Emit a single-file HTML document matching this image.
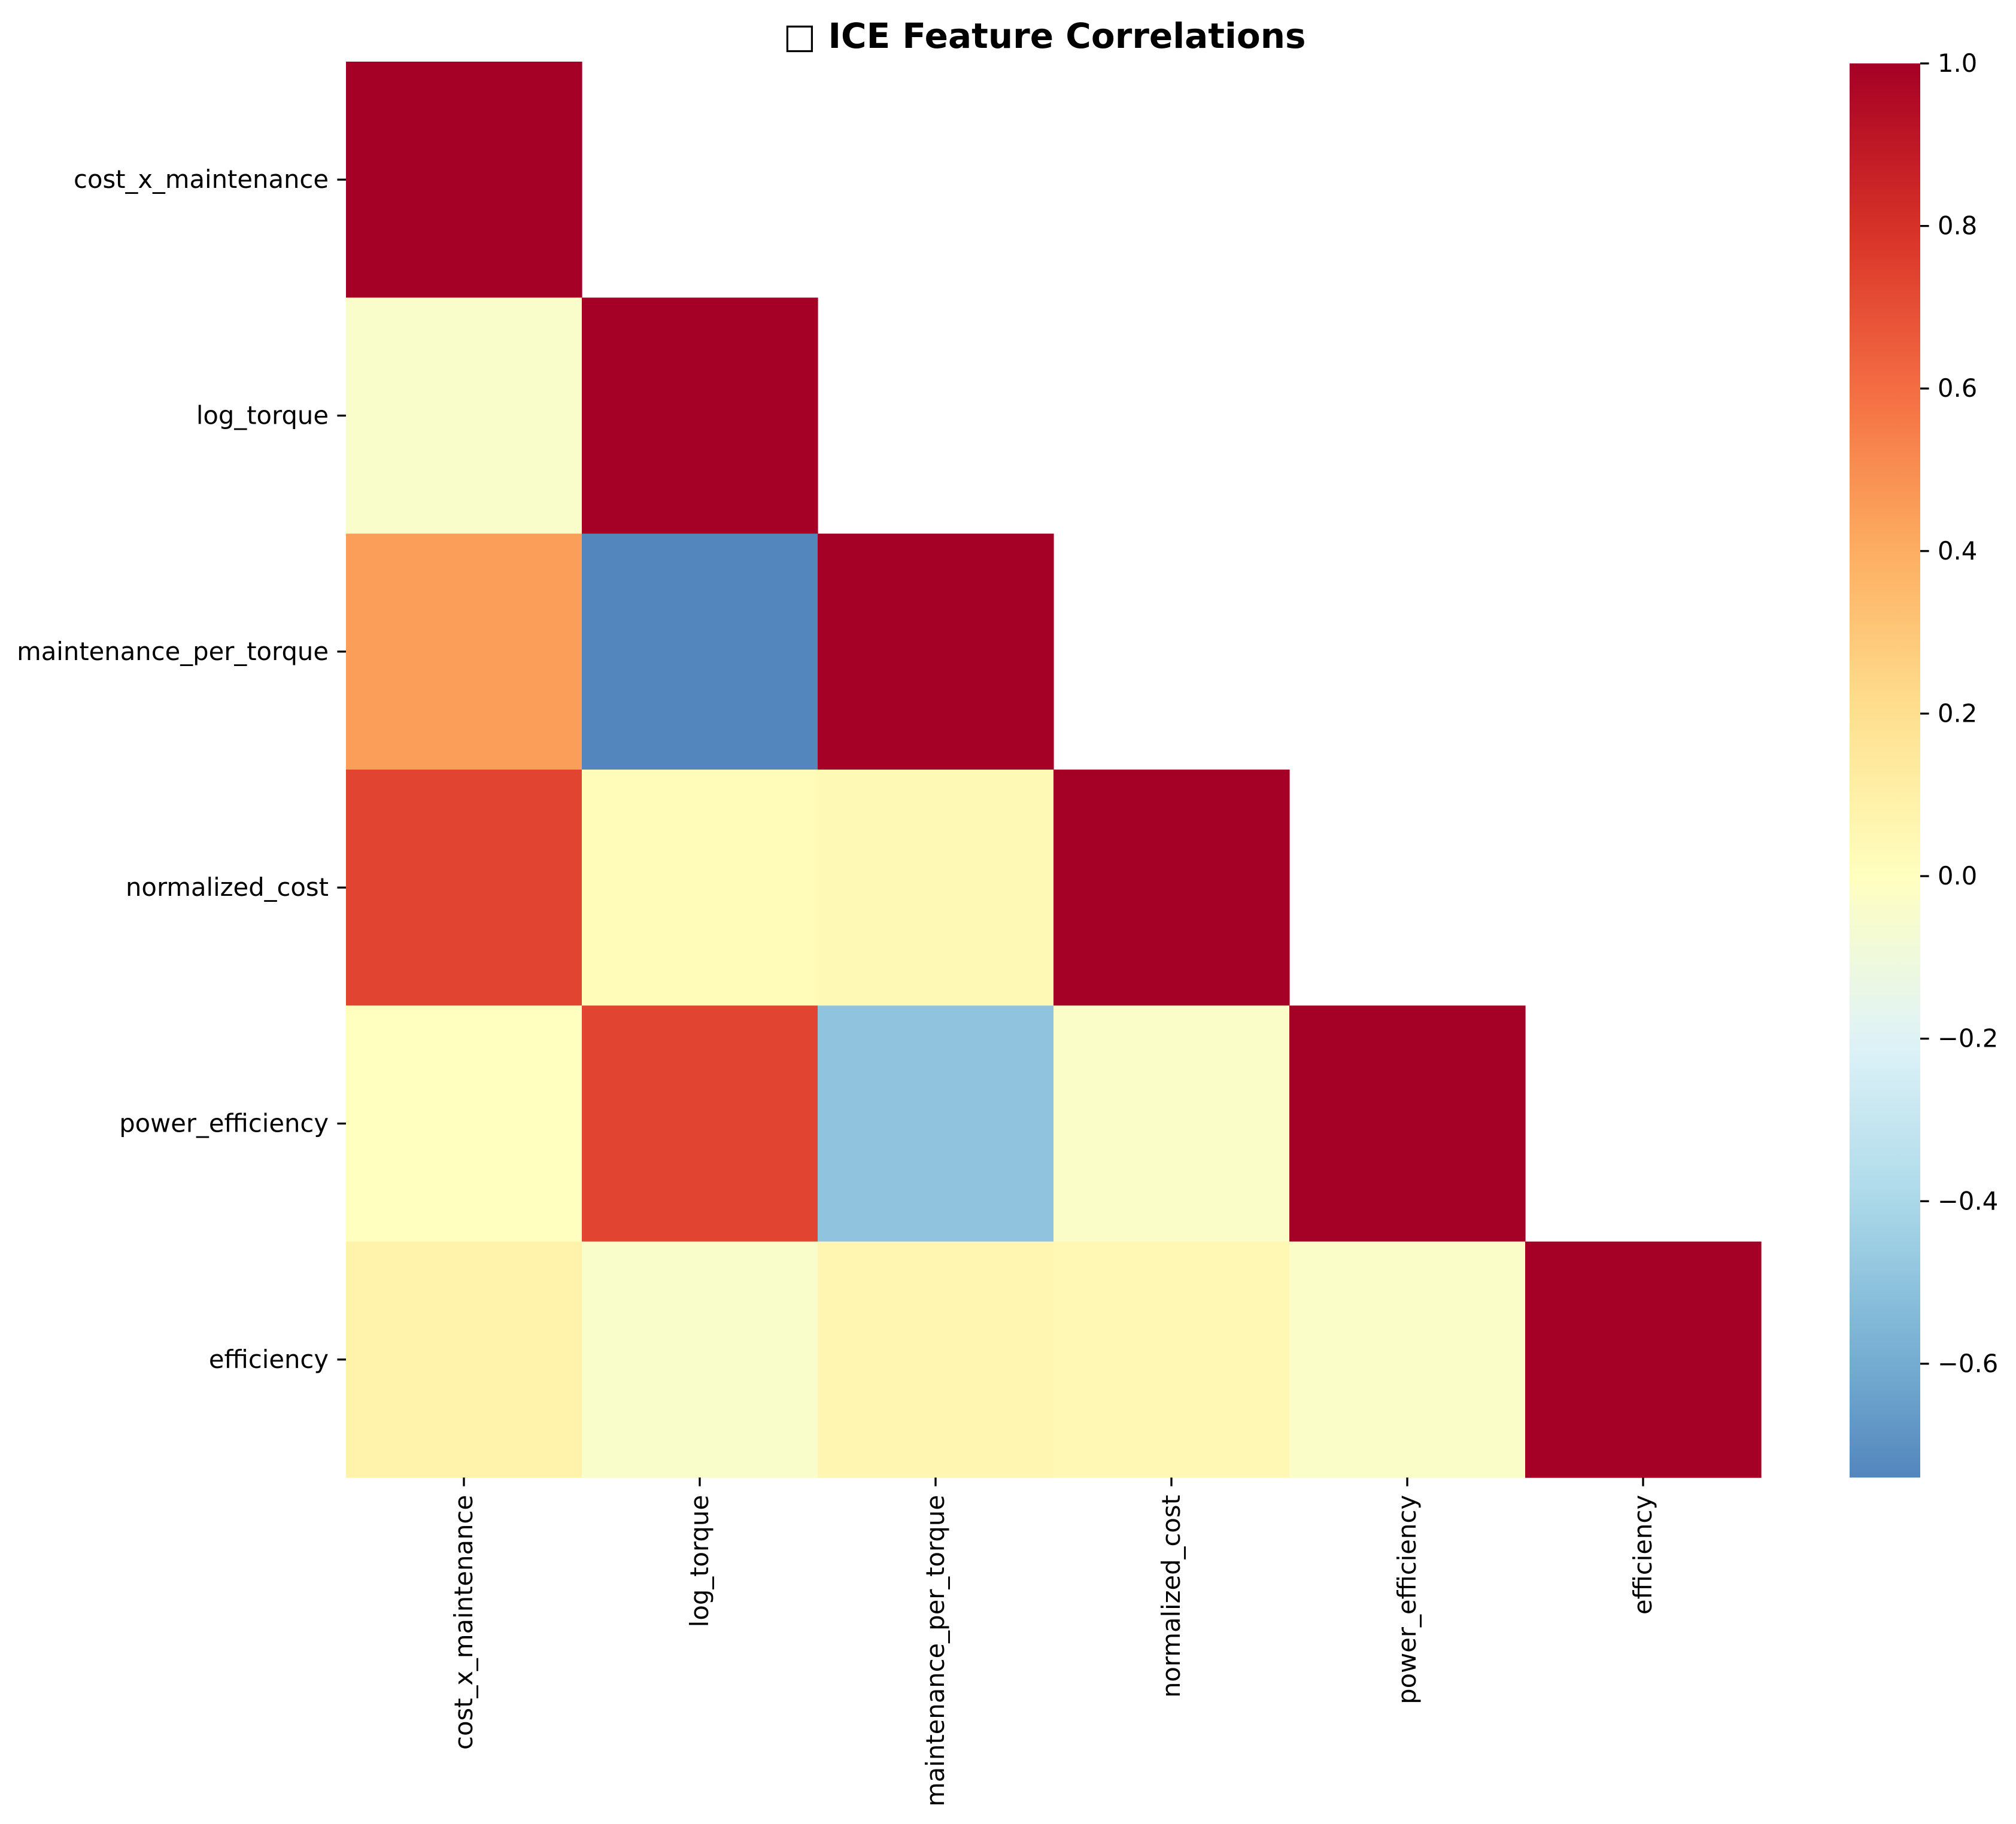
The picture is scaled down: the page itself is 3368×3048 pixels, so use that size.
<!DOCTYPE html>
<html><head><meta charset="utf-8"><style>
html,body{margin:0;padding:0;background:#fff;}
svg{display:block;font-family:"DejaVu Sans","Liberation Sans",sans-serif;}
</style></head><body>
<svg id="chart" width="3368" height="3048" viewBox="0 0 3368 3048" xmlns="http://www.w3.org/2000/svg">
<defs>
<linearGradient id="cbgrad" x1="0" y1="1" x2="0" y2="0"></linearGradient>
</defs>
<text x="1745" y="80" text-anchor="middle" font-size="58" font-weight="bold" fill="#000">□ ICE Feature Correlations</text>
<g id="cells"></g>
<g id="ylabels"></g>
<g id="xlabels"></g>
<g id="cbar"></g>
</svg>
<script>
const features = ["cost_x_maintenance","log_torque","maintenance_per_torque","normalized_cost","power_efficiency","efficiency"];
const row0 = [1.0];
const row1 = [-0.04, 1.0];
const row2 = [0.45, -0.74, 1.0];
const row3 = [0.73, 0.02, 0.04, 1.0];
const row4 = [0.0, 0.73, -0.5, -0.03, 1.0];
const row5 = [0.08, -0.04, 0.06, 0.05, -0.03, 1.0];
const rows = [row0,row1,row2,row3,row4,row5];
const cbTicks = [1.0,0.8,0.6,0.4,0.2,0.0,-0.2,-0.4,-0.6];
const cbTickLabels = ["1.0","0.8","0.6","0.4","0.2","0.0","\u22120.2","\u22120.4","\u22120.6"];

const NS="http://www.w3.org/2000/svg";
const L=578,R=2942,T=103,B=2469;
const n=features.length, cw=(R-L)/n, ch=(B-T)/n;
const vmax=1.0;
let vmin=Infinity; rows.forEach(r=>r.forEach(v=>{if(v<vmin)vmin=v;}));
const stops=["#313695","#4575b4","#74add1","#abd9e9","#e0f3f8","#ffffbf","#fee090","#fdae61","#f46d43","#d73027","#a50026"];
function hex(h){return [1,3,5].map(i=>parseInt(h.substr(i,2),16));}
function color(v){
  let t=(v+1)/2; t=Math.max(0,Math.min(1,t));
  const p=t*(stops.length-1), i=Math.min(Math.floor(p),stops.length-2), f=p-i;
  const a=hex(stops[i]), b=hex(stops[i+1]);
  return "rgb("+a.map((x,k)=>Math.round(x+(b[k]-x)*f)).join(",")+")";
}
function xs(j){return L+j*cw;}
function ys(i){return T+i*ch;}
function mk(tag,attrs,parent){const e=document.createElementNS(NS,tag);for(const k in attrs)e.setAttribute(k,attrs[k]);parent.appendChild(e);return e;}

const cells=document.getElementById('cells');
rows.forEach((r,i)=>r.forEach((v,j)=>{
  const e=mk('rect',{x:xs(j),y:ys(i),width:cw+0.6,height:ch+0.6,fill:color(v)},cells);
  
  
}));
const yl=document.getElementById('ylabels'), xl=document.getElementById('xlabels');
features.forEach((f,i)=>{
  const cy=ys(i)+ch/2;
  mk('line',{x1:L-14.6,x2:L,y1:cy,y2:cy,stroke:'#000','stroke-width':3.3},yl);
  const t=mk('text',{x:L-29,y:cy+14,'text-anchor':'end','font-size':41.7,fill:'#000'},yl);
  t.textContent=f;
  
  
  const cx=xs(i)+cw/2;
  mk('line',{x1:cx,x2:cx,y1:B,y2:B+14.6,stroke:'#000','stroke-width':3.3},xl);
  const u=mk('text',{x:0,y:0,'text-anchor':'end','font-size':41.7,fill:'#000',transform:'translate('+(cx+14)+','+(B+29)+') rotate(-90)'},xl);
  u.textContent=f;
  
  
});
const CL=3090,CR=3208,CT=106,CB=2469;
const grad=document.getElementById('cbgrad');
for(let k=0;k<=40;k++){
  const v=vmin+(vmax-vmin)*k/40;
  mk('stop',{offset:(k/40),'stop-color':color(v)},grad);
}
const cb=document.getElementById('cbar');
const cbr=mk('rect',{x:CL,y:CT,width:CR-CL,height:CB-CT,fill:'url(#cbgrad)'},cb);


function cy(v){return CB-(v-vmin)/(vmax-vmin)*(CB-CT);}
cbTicks.forEach((v,k)=>{
  const y=cy(v);
  mk('line',{x1:CR,x2:CR+14.6,y1:y,y2:y,stroke:'#000','stroke-width':3.3},cb);
  const t=mk('text',{x:CR+29,y:y+14,'font-size':41.7,fill:'#000'},cb);
  t.textContent=cbTickLabels[k];
  
  
});
</script>
</body></html>
